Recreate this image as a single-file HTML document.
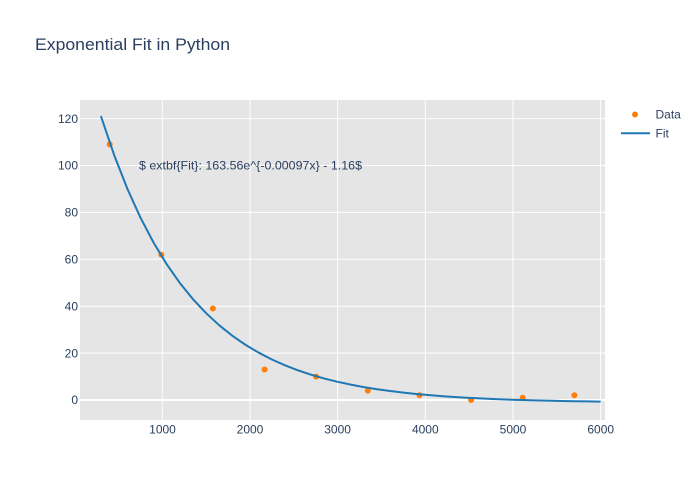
<!DOCTYPE html>
<html><head><meta charset="utf-8"><style>
html,body{margin:0;padding:0;background:#fff;}
svg{display:block;font-family:"Liberation Sans",Arial,sans-serif;}
</style></head><body>
<svg width="700" height="500" xmlns="http://www.w3.org/2000/svg">
<rect x="0" y="0" width="700" height="500" fill="#fff"/>
<rect x="80" y="100" width="525" height="320" fill="#e5e5e5"/>
<g stroke="#fff" stroke-width="1">
<line x1="162.3" y1="100" x2="162.3" y2="420"/>
<line x1="250" y1="100" x2="250" y2="420"/>
<line x1="337.6" y1="100" x2="337.6" y2="420"/>
<line x1="425.3" y1="100" x2="425.3" y2="420"/>
<line x1="513" y1="100" x2="513" y2="420"/>
<line x1="600.7" y1="100" x2="600.7" y2="420"/>
<line x1="80" y1="353.1" x2="605" y2="353.1"/>
<line x1="80" y1="306.2" x2="605" y2="306.2"/>
<line x1="80" y1="259.3" x2="605" y2="259.3"/>
<line x1="80" y1="212.4" x2="605" y2="212.4"/>
<line x1="80" y1="165.5" x2="605" y2="165.5"/>
<line x1="80" y1="118.6" x2="605" y2="118.6"/>
</g>
<line x1="80" y1="400" x2="605" y2="400" stroke="#fff" stroke-width="2"/>
<g fill="#2a3f5f" font-size="12" text-anchor="end">
<text x="78" y="404.2">0</text>
<text x="78" y="357.3">20</text>
<text x="78" y="310.4">40</text>
<text x="78" y="263.5">60</text>
<text x="78" y="216.6">80</text>
<text x="78" y="169.7">100</text>
<text x="78" y="122.8">120</text>
</g>
<g fill="#2a3f5f" font-size="12" text-anchor="middle">
<text x="162.5" y="433.5">1000</text>
<text x="250" y="433.5">2000</text>
<text x="337.6" y="433.5">3000</text>
<text x="425.3" y="433.5">4000</text>
<text x="513" y="433.5">5000</text>
<text x="600.7" y="433.5">6000</text>
</g>
<g fill="#ff7f0e">
<circle cx="109.7" cy="144.4" r="3"/>
<circle cx="161.3" cy="254.6" r="3"/>
<circle cx="212.9" cy="308.5" r="3"/>
<circle cx="264.6" cy="369.5" r="3"/>
<circle cx="316.2" cy="376.6" r="3"/>
<circle cx="367.8" cy="390.6" r="3"/>
<circle cx="419.5" cy="395.3" r="3"/>
<circle cx="471.1" cy="400" r="3"/>
<circle cx="522.7" cy="397.7" r="3"/>
<circle cx="574.4" cy="395.3" r="3"/>
</g>
<polyline fill="none" stroke="#1f77b4" stroke-width="2" stroke-linejoin="round" points="100.90,116.02 114.06,154.83 127.21,188.41 140.36,217.42 153.51,242.51 166.66,264.20 179.82,282.96 192.97,299.19 206.12,313.19 219.27,325.31 232.42,335.79 245.58,344.87 258.73,352.70 271.88,359.48 285.03,365.32 298.18,370.38 311.34,374.77 324.49,378.55 337.64,381.83 350.79,384.66 363.94,387.10 377.10,389.21 390.25,391.04 403.40,392.63 416.55,394.00 429.70,395.17 442.86,396.20 456.01,397.07 469.16,397.84 482.31,398.50 495.46,399.08 508.62,399.57 521.77,400.00 534.92,400.37 548.07,400.68 561.22,400.96 574.38,401.20 587.53,401.40 600.68,401.58"/>
<text x="250.5" y="169.5" font-size="12" fill="#2a3f5f" text-anchor="middle" textLength="223" lengthAdjust="spacingAndGlyphs">$ extbf{Fit}: 163.56e^{-0.00097x} - 1.16$</text>
<text x="35" y="50" font-size="17" fill="#2a3f5f" textLength="195" lengthAdjust="spacingAndGlyphs">Exponential Fit in Python</text>
<circle cx="635" cy="114.5" r="3" fill="#ff7f0e"/>
<text x="655.5" y="118.5" font-size="12" fill="#2a3f5f">Data</text>
<line x1="621" y1="133.3" x2="650" y2="133.3" stroke="#1f77b4" stroke-width="2"/>
<text x="655.5" y="137.5" font-size="12" fill="#2a3f5f">Fit</text>
</svg>
</body></html>
